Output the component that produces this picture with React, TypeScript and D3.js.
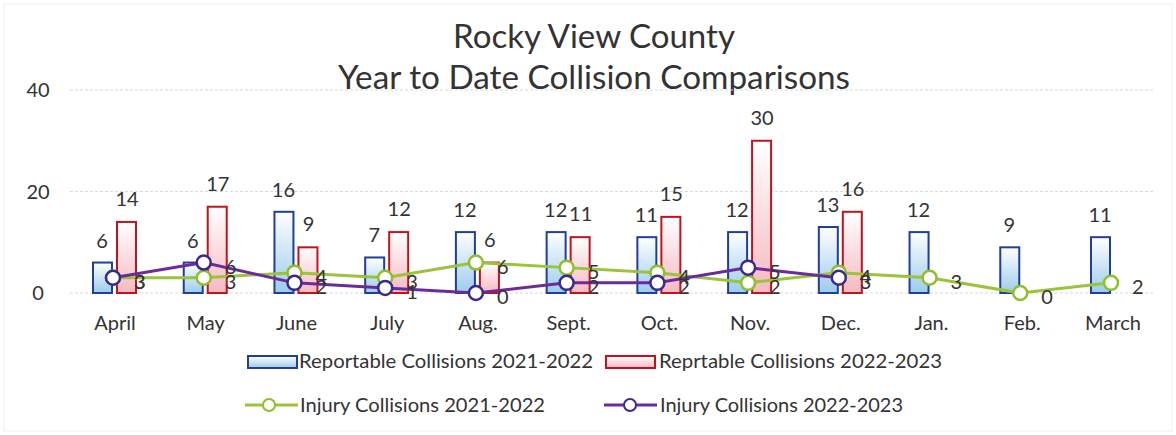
import React from "react";
import * as d3 from "d3";

const months = ["April", "May", "June", "July", "Aug.", "Sept.", "Oct.", "Nov.", "Dec.", "Jan.", "Feb.", "March"];
const reportable2122 = [6, 6, 16, 7, 12, 12, 11, 12, 13, 12, 9, 11];
const reportable2223 = [14, 17, 9, 12, 6, 11, 15, 30, 16];
const injury2122 = [3, 3, 4, 3, 6, 5, 4, 2, 4, 3, 0, 2];
const injury2223 = [3, 6, 2, 1, 0, 2, 2, 5, 3];
const yTicks = [0, 20, 40];

const W = 1176, H = 435;
const FONT = "Lato, 'Open Sans', sans-serif";
const TEXT = "#333";
const GREEN = "#9bc43a";
const GREEN_MK = "#8fbf2a";
const PURPLE = "#6b2c9a";
const PURPLE_MK = "#3b2a8e";
const BLUE = "#1f3f9a";
const RED = "#c0141c";

export default function App() {
  const x = d3.scalePoint<string>().domain(months).range([113, 1111]);
  const y = d3.scaleLinear().domain([0, 40]).range([293, 90]);
  const line = d3.line<number>().x((_, i) => x(months[i])!).y((d) => y(d));

  return (
    <svg width={W} height={H} style={{ position: "absolute", left: 0, top: 0, background: "#fff" }} fontFamily={FONT}>
      <defs>
        <linearGradient id="gBlue" x1="0" y1="0" x2="0" y2="1">
          <stop offset="0" stopColor="#ffffff" />
          <stop offset="1" stopColor="#9ccbec" />
        </linearGradient>
        <linearGradient id="gRed" x1="0" y1="0" x2="0" y2="1">
          <stop offset="0" stopColor="#ffffff" />
          <stop offset="1" stopColor="#f6b9c2" />
        </linearGradient>
      </defs>
      <rect x={4} y={4} width={W - 8} height={H - 8} fill="none" stroke="#f0f0f0" />
      <text x={594} y={48} textAnchor="middle" fontSize={32} fill={TEXT} textLength={282} lengthAdjust="spacingAndGlyphs">Rocky View County</text>
      <text x={594} y={89} textAnchor="middle" fontSize={32} fill={TEXT} textLength={512} lengthAdjust="spacingAndGlyphs">Year to Date Collision Comparisons</text>

      {yTicks.map((t) => (
        <g key={t}>
          <line x1={70} x2={1155} y1={y(t)} y2={y(t)} stroke="#d9d9d9" strokeDasharray="3,2" />
          <text x={38} y={y(t) + 7} textAnchor="middle" fontSize={20} fill={TEXT}>{t}</text>
        </g>
      ))}

      {months.map((m) => (
        <text key={m} x={x(m)! + 2} y={330} textAnchor="middle" fontSize={20} fill={TEXT}>{m}</text>
      ))}

      {reportable2122.map((v, i) => {
        const c = x(months[i])!;
        return (
          <g key={"b" + i}>
            <rect x={c - 20} y={y(v)} width={19} height={y(0) - y(v)} fill="url(#gBlue)" stroke={BLUE} strokeWidth={2} />
            <text x={c - 11} y={y(v) - 15} textAnchor="middle" fontSize={20} fill={TEXT}>{v}</text>
          </g>
        );
      })}
      {reportable2223.map((v, i) => {
        const c = x(months[i])!;
        return (
          <g key={"r" + i}>
            <rect x={c + 4} y={y(v)} width={19} height={y(0) - y(v)} fill="url(#gRed)" stroke={RED} strokeWidth={2} />
            <text x={c + 14} y={y(v) - 16} textAnchor="middle" fontSize={20} fill={TEXT}>{v}</text>
          </g>
        );
      })}

      <path d={line(injury2122)!} fill="none" stroke={GREEN} strokeWidth={3} />
      <path d={line(injury2223)!} fill="none" stroke={PURPLE} strokeWidth={3} />
      {injury2122.map((v, i) => (
        <g key={"g" + i}>
          <circle cx={x(months[i])!} cy={y(v)} r={7} fill="#fff" stroke={GREEN_MK} strokeWidth={2.5} />
          <text x={x(months[i])! + 21} y={y(v) + 11} fontSize={20} fill={TEXT}>{v}</text>
        </g>
      ))}
      {injury2223.map((v, i) => (
        <g key={"p" + i}>
          <circle cx={x(months[i])!} cy={y(v)} r={7} fill="#fff" stroke={PURPLE_MK} strokeWidth={2.5} />
          <text x={x(months[i])! + 21} y={y(v) + 11} fontSize={20} fill={TEXT}>{v}</text>
        </g>
      ))}

      <g fontSize={20} fill={TEXT}>
        <rect x={248} y={356} width={49} height={12} fill="url(#gBlue)" stroke={BLUE} strokeWidth={2} />
        <text x={299} y={368} textLength={294} lengthAdjust="spacingAndGlyphs">Reportable Collisions 2021-2022</text>
        <rect x={606} y={356} width={49} height={12} fill="url(#gRed)" stroke={RED} strokeWidth={2} />
        <text x={659} y={368} textLength={283} lengthAdjust="spacingAndGlyphs">Reprtable Collisions 2022-2023</text>

        <line x1={245} x2={298} y1={405} y2={405} stroke={GREEN} strokeWidth={3} />
        <circle cx={269} cy={405} r={6} fill="#fff" stroke={GREEN_MK} strokeWidth={2} />
        <text x={300} y={412} textLength={245} lengthAdjust="spacingAndGlyphs">Injury Collisions 2021-2022</text>
        <line x1={604} x2={657} y1={405} y2={405} stroke={PURPLE} strokeWidth={3} />
        <circle cx={630} cy={405} r={6} fill="#fff" stroke={PURPLE_MK} strokeWidth={2} />
        <text x={660} y={412} textLength={243} lengthAdjust="spacingAndGlyphs">Injury Collisions 2022-2023</text>
      </g>
    </svg>
  );
}
